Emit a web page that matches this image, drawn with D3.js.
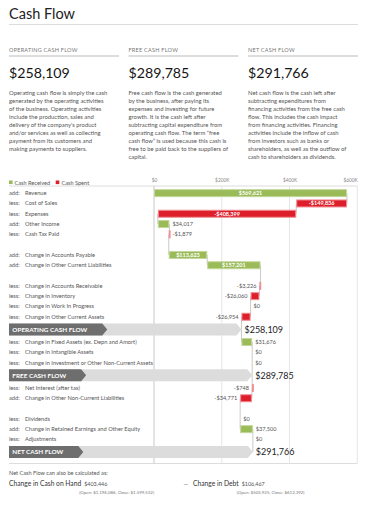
<!DOCTYPE html>
<html>
<head>
<meta charset="utf-8">
<script src="https://cdn.jsdelivr.net/npm/d3@7"></script>
<style>
html,body{margin:0;padding:0;background:#fff;}
svg{display:block;font-family:Lato,"Open Sans",sans-serif;}
</style>
</head>
<body>
<svg id="chart" width="372" height="512"></svg>
<script>
// ---------- DATA ----------
const title = "Cash Flow";
const kpiTitles = ["OPERATING CASH FLOW", "FREE CASH FLOW", "NET CASH FLOW"];
const kpiValues = ["$258,109", "$289,785", "$291,766"];
const kpiTexts = [
  ["Operating cash flow is simply the cash","generated by the operating activities","of the business. Operating activities","include the production, sales and","delivery of the company's product","and/or services as well as collecting","payment from its customers and","making payments to suppliers."],
  ["Free cash flow is the cash generated","by the business, after paying its","expenses and investing for future","growth. It is the cash left after","subtracting capital expenditure from","operating cash flow. The term \u201cfree","cash flow\u201d is used because this cash is","free to be paid back to the suppliers of","capital."],
  ["Net cash flow is the cash left after","subtracting expenditures from","financing activities from the free cash","flow. This includes the cash impact","from financing activities. Financing","activities include the inflow of cash","from investors such as banks or","shareholders, as well as the outflow of","cash to shareholders as dividends."]
];
const legendLabels = ["Cash Received", "Cash Spent"];
const tickValues = [0, 200000, 400000, 600000];
const tickLabels = ["$0", "$200K", "$400K", "$600K"];

const rowTypes = ["item","item","item","item","item","blank","item","item","blank","item","item","item","item","total","item","item","item","total","item","item","blank","item","item","item","total"];
const rowPrefixes = ["add:","less:","less:","add:","less:","","add:","add:","","less:","less:","less:","less:","","less:","less:","less:","","less:","add:","","less:","add:","less:",""];
const rowLabels = ["Revenue","Cost of Sales","Expenses","Other Income","Cash Tax Paid","","Change in Accounts Payable","Change in Other Current Liabilities","","Change in Accounts Receivable","Change in Inventory","Change in Work In Progress","Change in Other Current Assets","OPERATING CASH FLOW","Change in Fixed Assets (ex. Depn and Amort)","Change in Intangible Assets","Change in Investment or Other Non-Current Assets","FREE CASH FLOW","Net Interest (after tax)","Change in Other Non-Current Liabilities","","Dividends","Change in Retained Earnings and Other Equity","Adjustments","NET CASH FLOW"];
const rowValues = [569621,-149836,-408399,34017,-1879,null,113623,157201,null,-3226,-26060,0,-26954,null,31676,0,0,null,-748,-34771,null,0,37500,0,null];
const totalLabels = ["$258,109","$289,785","$291,766"];

const footNote = "Net Cash Flow can also be calculated as:";
const footNames = ["Change in Cash on Hand", "Change in Debt"];
const footValues = ["$403,446", "$106,467"];
const footDetails = ["(Open: $1,196,086, Close: $1,599,532)", "(Open: $505,925, Close: $612,392)"];

// ---------- DRAW ----------
const svg = d3.select("#chart");
const GREEN = "#9bbb59", GREEN_S = "#c3d69b", RED = "#dd1f2b", RED_S = "#f08c92";
const fmt = v => (v < 0 ? "-$" : "$") + d3.format(",")(Math.abs(v));

// title
svg.append("text").attr("x", 9).attr("y", 19).attr("font-size", 14.5).attr("fill", "#222").text(title);
svg.append("line").attr("x1", 9).attr("x2", 358).attr("y1", 24.5).attr("y2", 24.5).attr("stroke", "#ddd");

// KPI columns
const colX = [9, 128.5, 248];
kpiTitles.forEach((t, i) => {
  const g = svg.append("g").attr("transform", `translate(${colX[i]},0)`);
  g.append("text").attr("x", 0).attr("y", 51.5).attr("font-size", 5.5).attr("letter-spacing", 0.25).attr("fill", "#777").text(t);
  g.append("line").attr("x1", 0).attr("x2", 110).attr("y1", 56).attr("y2", 56).attr("stroke", "#bbb");
  g.append("text").attr("x", 0).attr("y", 78).attr("font-size", 14.2).attr("fill", "#151515").text(kpiValues[i]);
  kpiTexts[i].forEach((ln, j) => {
    g.append("text").attr("x", 0).attr("y", 94.5 + j * 8.1).attr("font-size", 5.9).attr("fill", "#555").text(ln);
  });
});

// legend
const legY = 183;
svg.append("rect").attr("x", 9).attr("y", legY - 2.5).attr("width", 3.6).attr("height", 3.6).attr("fill", GREEN);
svg.append("text").attr("x", 14.5).attr("y", legY + 1.5).attr("font-size", 5.6).attr("fill", "#555").text(legendLabels[0]);
svg.append("rect").attr("x", 55.7).attr("y", legY - 2.5).attr("width", 3.6).attr("height", 3.6).attr("fill", RED);
svg.append("text").attr("x", 61.5).attr("y", legY + 1.5).attr("font-size", 5.6).attr("fill", "#555").text(legendLabels[1]);

// scales
const x = d3.scaleLinear().domain([0, 600000]).range([154, 357.3]);
const chartTop = 186, chartBottom = 463.5, rowsTop = 188;
const rowH = t => t === "total" ? 15 : 10.3;
const ys = []; let acc = rowsTop;
rowTypes.forEach(t => { ys.push(acc + rowH(t) / 2); acc += rowH(t); });

// running totals
const starts = [], ends = []; let run = 0;
rowTypes.forEach((t, i) => {
  if (t === "item") { starts.push(run); run += rowValues[i]; ends.push(run); }
  else { starts.push(run); ends.push(run); }
});

// horizontal frame lines
svg.append("line").attr("x1", 9).attr("x2", 357.3).attr("y1", chartTop).attr("y2", chartTop).attr("stroke", "#ddd");
svg.append("line").attr("x1", 9).attr("x2", 357.3).attr("y1", chartBottom).attr("y2", chartBottom).attr("stroke", "#ddd");

// axis ticks (top)
const axis = d3.axisTop(x).tickValues(tickValues).tickFormat((d, i) => tickLabels[i]).tickSize(0);
const axG = svg.append("g").attr("transform", `translate(0,${chartTop - 1.5})`).call(axis);
axG.select(".domain").remove();
axG.selectAll("text").attr("font-size", 4.8).attr("fill", "#888").attr("font-family", "Lato, sans-serif").attr("dy", 0);
axG.selectAll("text").filter((d, i) => i === tickValues.length - 1).attr("text-anchor", "end").attr("dx", 0);

// gridlines
svg.append("g").selectAll("line").data(tickValues).join("line")
  .attr("x1", d => x(d)).attr("x2", d => x(d)).attr("y1", chartTop).attr("y2", chartBottom)
  .attr("stroke", d => d === 0 ? "#c8c8c8" : "#e6e6e6").attr("stroke-width", 1);

// connectors
const conn = svg.append("g");
for (let i = 0; i < rowTypes.length - 1; i++) {
  conn.append("line").attr("x1", x(ends[i])).attr("x2", x(ends[i]))
    .attr("y1", ys[i]).attr("y2", ys[i + 1]).attr("stroke", "#bdbdbd").attr("stroke-width", 0.8);
}

// row labels
const lab = svg.append("g").attr("font-size", 5.7).attr("fill", "#555");
rowTypes.forEach((t, i) => {
  if (t !== "item") return;
  lab.append("text").attr("x", 9).attr("y", ys[i] + 2).text(rowPrefixes[i]);
  lab.append("text").attr("x", 25).attr("y", ys[i] + 2).text(rowLabels[i]);
});

// bars
const barH = 8;
const bars = svg.append("g");
rowTypes.forEach((t, i) => {
  if (t !== "item") return;
  const v = rowValues[i];
  const x0 = x(Math.min(starts[i], ends[i])), x1 = x(Math.max(starts[i], ends[i]));
  const w = x1 - x0;
  if (v !== 0) {
    bars.append("rect").attr("x", x0 + 0.5).attr("y", ys[i] - barH / 2 + 0.5)
      .attr("width", Math.max(w - 1, 0.8)).attr("height", barH - 1)
      .attr("fill", v > 0 ? GREEN : RED).attr("stroke", v > 0 ? GREEN_S : RED_S).attr("stroke-width", 1);
  }
  const label = fmt(v);
  if (w > 30) {
    bars.append("text").attr("x", (x0 + x1) / 2).attr("y", ys[i] + 2).attr("text-anchor", "middle")
      .attr("font-size", 5.5).attr("font-weight", "bold").attr("fill", "#fff").text(label);
  } else {
    const tx = bars.append("text").attr("y", ys[i] + 2).attr("font-size", 5.6).attr("fill", "#555").text(label);
    const tw = tx.node().getComputedTextLength();
    if (v < 0 && x0 - 3 - tw > x(0) + 2) tx.attr("x", x0 - 3).attr("text-anchor", "end");
    else tx.attr("x", x1 + 3).attr("text-anchor", "start");
  }
});

// totals banners
let ti = 0;
rowTypes.forEach((t, i) => {
  if (t !== "total") return;
  const cy = ys[i], h = 12, tip = 5;
  const xv = x(ends[i]);
  const g = svg.append("g");
  g.append("path").attr("d", `M9,${cy - h / 2}L${xv - tip},${cy - h / 2}L${xv},${cy}L${xv - tip},${cy + h / 2}L9,${cy + h / 2}Z`).attr("fill", "#dcdcdc");
  const dark = g.append("path").attr("fill", "#6e6e6e");
  const tt = g.append("text").attr("x", 12.3).attr("y", cy + 2.2).attr("font-size", 6.4).attr("font-weight", "bold").attr("fill", "#fff").text(rowLabels[i]);
  const tw = tt.node().getComputedTextLength();
  const xe = 12.3 + tw + 20;
  dark.attr("d", `M9,${cy - h / 2}L${xe - tip},${cy - h / 2}L${xe},${cy}L${xe - tip},${cy + h / 2}L9,${cy + h / 2}Z`);
  g.append("text").attr("x", xv + 3).attr("y", cy + 3.2).attr("font-size", 9).attr("fill", "#222").text(totalLabels[ti]);
  ti++;
});

// footer
svg.append("text").attr("x", 9).attr("y", 475).attr("font-size", 5.6).attr("fill", "#555").text(footNote);
const fx = [9, 193];
footNames.forEach((n, i) => {
  const nt = svg.append("text").attr("x", fx[i]).attr("y", 485.5).attr("font-size", 6.7).attr("fill", "#333").text(n);
  const nw = nt.node().getComputedTextLength();
  svg.append("text").attr("x", fx[i] + nw + 3).attr("y", 485.5).attr("font-size", 5.4).attr("fill", "#555").text(footValues[i]);
  svg.append("text").attr("x", fx[i] + nw - 2).attr("y", 493.5).attr("font-size", 4.4).attr("fill", "#777").text(footDetails[i]);
});
svg.append("text").attr("x", 183.5).attr("y", 485.5).attr("font-size", 6).attr("fill", "#555").text("\u2014");
</script>
</body>
</html>
